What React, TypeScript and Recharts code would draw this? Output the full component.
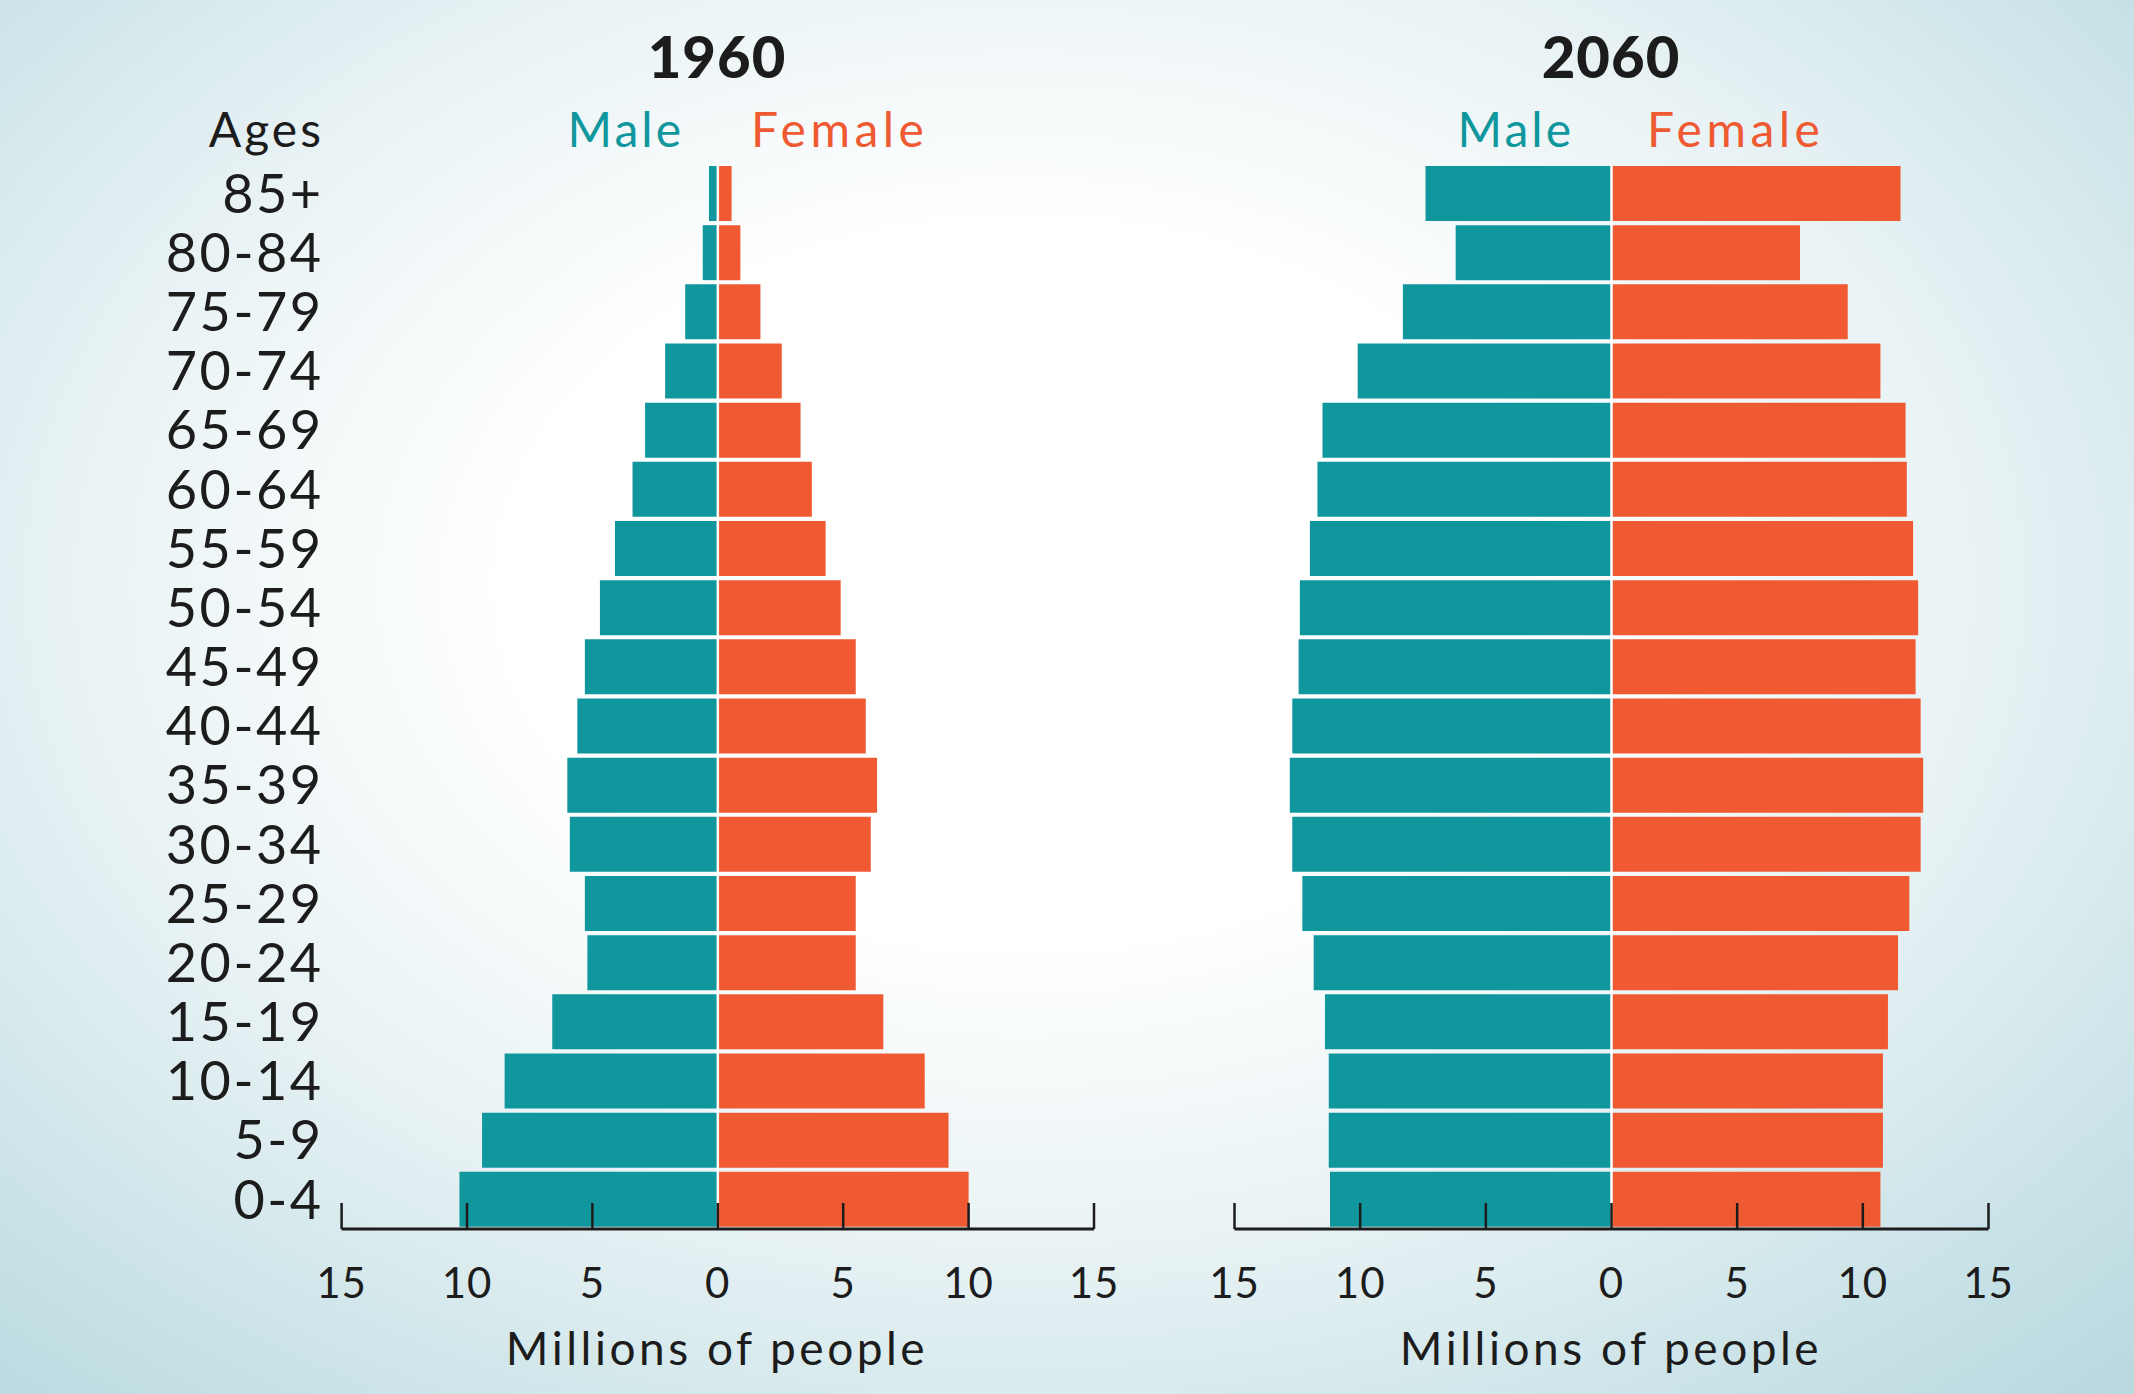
import React from 'react';
import { BarChart, Bar, XAxis, YAxis, ReferenceLine } from 'recharts';

const ages = ['85+', '80-84', '75-79', '70-74', '65-69', '60-64', '55-59', '50-54', '45-49', '40-44', '35-39', '30-34', '25-29', '20-24', '15-19', '10-14', '5-9', '0-4'];

const male1960 = [0.35, 0.6, 1.3, 2.1, 2.9, 3.4, 4.1, 4.7, 5.3, 5.6, 6.0, 5.9, 5.3, 5.2, 6.6, 8.5, 9.4, 10.3];
const female1960 = [0.55, 0.9, 1.7, 2.55, 3.3, 3.75, 4.3, 4.9, 5.5, 5.9, 6.35, 6.1, 5.5, 5.5, 6.6, 8.25, 9.2, 10.0];

const male2060 = [7.4, 6.2, 8.3, 10.1, 11.5, 11.7, 12.0, 12.4, 12.45, 12.7, 12.8, 12.7, 12.3, 11.85, 11.4, 11.25, 11.25, 11.2];
const female2060 = [11.5, 7.5, 9.4, 10.7, 11.7, 11.75, 12.0, 12.2, 12.1, 12.3, 12.4, 12.3, 11.85, 11.4, 11.0, 10.8, 10.8, 10.7];

const xTicks = [-15, -10, -5, 0, 5, 10, 15];

const TEAL = '#0f979d';
const ORANGE = '#ef5a33';
const INK = '#1c1c1c';
const FONT = 'Lato, "Open Sans", sans-serif';

const build = (male: number[], female: number[]) =>
  ages.map((age, i) => ({ age, male: -male[i], female: female[i] }));

const data1960 = build(male1960, female1960);
const data2060 = build(male2060, female2060);

function AxisTick({ x, y, payload }: any) {
  const base = y - 1;
  return (
    <g>
      <line x1={x} x2={x} y1={base} y2={base - 26} stroke={INK} strokeWidth={2.5} />
      <text x={x} y={base + 69} textAnchor="middle" fill={INK} fontSize={42} fontFamily={FONT} letterSpacing={1}>
        {Math.abs(payload.value)}
      </text>
    </g>
  );
}

function Pyramid({ data, showAges, margin, width }: any) {
  return (
    <BarChart
      layout="vertical"
      width={width}
      height={1394}
      data={data}
      stackOffset="sign"
      barCategoryGap={2}
      margin={margin}
    >
      <XAxis
        type="number"
        domain={[-15, 15]}
        ticks={xTicks}
        interval={0}
        allowDataOverflow
        axisLine={{ stroke: INK, strokeWidth: 3 }}
        tickLine={false}
        tickSize={1}
        tickMargin={0}
        height={120}
        tick={<AxisTick />}
      />
      <YAxis
        type="category"
        dataKey="age"
        hide={!showAges}
        width={showAges ? 300 : 0}
        axisLine={false}
        tickLine={false}
        tickSize={0}
        tickMargin={18}
        interval={0}
        tick={{ fill: INK, fontSize: 54, fontFamily: FONT, letterSpacing: 2.5 }}
      />
      <Bar dataKey="male" stackId="p" fill={TEAL} isAnimationActive={false} />
      <Bar dataKey="female" stackId="p" fill={ORANGE} isAnimationActive={false} />
      <ReferenceLine x={0} stroke="#ffffff" strokeWidth={2.5} />
    </BarChart>
  );
}

export default function App() {
  return (
    <div
      style={{
        position: 'absolute',
        left: 0,
        top: 0,
        width: 2134,
        height: 1394,
        overflow: 'hidden',
        fontFamily: FONT,
        background:
          'radial-gradient(ellipse 75% 80% at 48% 42%, #ffffff 0%, #ffffff 32%, #e8f2f4 60%, #c8e2e7 85%, #b8d9df 100%)',
      }}
    >
      <div style={{ position: 'absolute', left: 0, top: 0 }}>
        <Pyramid data={data1960} showAges width={1130} margin={{ top: 164, right: 36, bottom: 45, left: 41.6 }} />
      </div>
      <div style={{ position: 'absolute', left: 1130, top: 0 }}>
        <Pyramid data={data2060} showAges={false} width={1004} margin={{ top: 164, right: 145.5, bottom: 45, left: 104.5 }} />
      </div>
      <svg width={2134} height={1394} style={{ position: 'absolute', left: 0, top: 0, pointerEvents: 'none' }}>
        <g fontFamily={FONT}>
          <text x={717} y={78} textAnchor="middle" fontSize={58} fontWeight={900} fill={INK} letterSpacing={1}>1960</text>
          <text x={1611} y={78} textAnchor="middle" fontSize={58} fontWeight={900} fill={INK} letterSpacing={1}>2060</text>
          <text x={324} y={147} textAnchor="end" fontSize={48} fill={INK} letterSpacing={3}>Ages</text>
          <text x={684} y={147} textAnchor="end" fontSize={48} fill={TEAL} letterSpacing={3}>Male</text>
          <text x={751} y={147} textAnchor="start" fontSize={48} fill={ORANGE} letterSpacing={4.5}>Female</text>
          <text x={1574} y={147} textAnchor="end" fontSize={48} fill={TEAL} letterSpacing={3}>Male</text>
          <text x={1647} y={147} textAnchor="start" fontSize={48} fill={ORANGE} letterSpacing={4.5}>Female</text>
          <text x={717} y={1365} textAnchor="middle" fontSize={46} fill={INK} letterSpacing={3.5}>Millions of people</text>
          <text x={1611} y={1365} textAnchor="middle" fontSize={46} fill={INK} letterSpacing={3.5}>Millions of people</text>
        </g>
      </svg>
    </div>
  );
}
